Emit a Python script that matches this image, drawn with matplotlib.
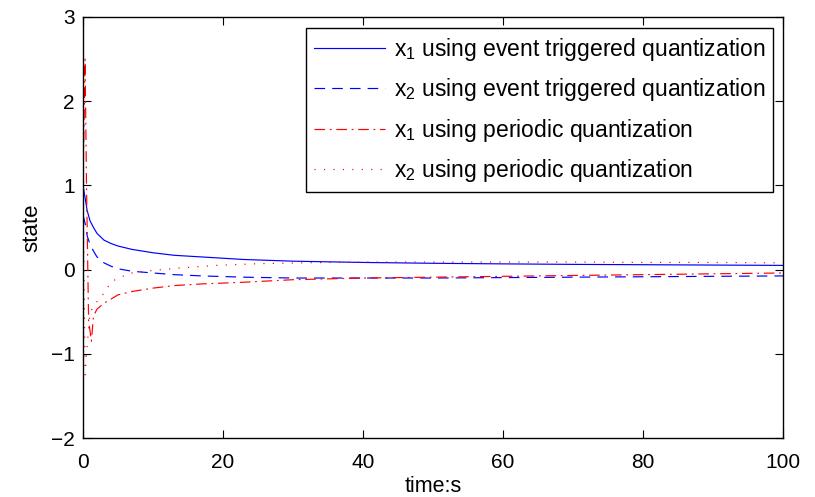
import matplotlib
matplotlib.use("Agg")
import matplotlib.pyplot as plt
import numpy as np

plt.rcParams['font.family'] = ['Liberation Sans', 'DejaVu Sans']
plt.rcParams['mathtext.fontset'] = 'custom'
plt.rcParams['mathtext.rm'] = 'Liberation Sans'
plt.rcParams['mathtext.it'] = 'Liberation Sans'

# time samples (s)
t_x1e = [0, 0.3, 0.6, 1, 1.5, 2, 3, 4, 5, 7, 10, 13, 17, 23, 30, 40, 50, 60, 70, 80, 90, 100]
x1_event = [1.0, 0.85, 0.7, 0.58, 0.5, 0.43, 0.35, 0.31, 0.28, 0.24, 0.2, 0.17, 0.15, 0.12,
            0.1, 0.085, 0.075, 0.068, 0.062, 0.058, 0.054, 0.05]

t_x2e = [0, 0.3, 0.6, 1, 1.5, 2, 3, 4, 5, 7, 10, 13, 17, 23, 30, 40, 50, 60, 70, 80, 90, 100]
x2_event = [0.65, 0.55, 0.4, 0.3, 0.22, 0.15, 0.08, 0.04, 0.01, -0.02, -0.04, -0.06, -0.075,
            -0.09, -0.1, -0.1, -0.1, -0.095, -0.09, -0.085, -0.08, -0.075]

t_x1p = [0, 0.3, 0.5, 0.8, 1.2, 1.5, 2, 3, 4, 5, 7, 10, 13, 17, 23, 30, 40, 50, 60, 70, 80, 90, 100]
x1_periodic = [1.0, 2.5, 1.0, -0.6, -0.85, -0.55, -0.47, -0.4, -0.35, -0.3, -0.26, -0.22, -0.19,
               -0.17, -0.15, -0.12, -0.1, -0.09, -0.08, -0.07, -0.06, -0.05, -0.04]

t_x2p = [0, 0.3, 0.6, 1, 1.5, 2, 3, 4, 5, 7, 10, 14, 19, 25, 31, 40, 50, 60, 70, 80, 90, 100]
x2_periodic = [1.0, -1.25, -0.9, -0.5, -0.45, -0.38, -0.28, -0.15, -0.1, -0.04, -0.01, 0.02,
               0.05, 0.07, 0.08, 0.09, 0.09, 0.09, 0.09, 0.085, 0.085, 0.08]

labels = ['x$_1$ using event triggered quantization',
          'x$_2$ using event triggered quantization',
          'x$_1$ using periodic quantization',
          'x$_2$ using periodic quantization']

xticks = [0, 20, 40, 60, 80, 100]
yticks = [-2, -1, 0, 1, 2, 3]
yticklabels = ['\u22122', '\u22121', '0', '1', '2', '3']

fig = plt.figure(figsize=(8.15, 4.97), dpi=100)
ax = fig.add_axes([83/815, 1 - 438/497, 700/815, 421/497])

lw = 0.85
ax.plot(t_x1e, x1_event, color='#0000ff', lw=lw, ls='-', label=labels[0])
ax.plot(t_x2e, x2_event, color='#0000ff', lw=lw, ls=(0, (9, 6)), label=labels[1])
ax.plot(t_x1p, x1_periodic, color='#ff0000', lw=lw, ls=(0, (9, 4, 1.5, 4)), label=labels[2])
ax.plot(t_x2p, x2_periodic, color='#ff0000', lw=lw, ls=(0, (1, 7)), label=labels[3])

ax.set_xlim(0, 100)
ax.set_ylim(-2, 3)
ax.set_xticks(xticks)
ax.set_yticks(yticks)
ax.set_yticklabels(yticklabels)
ax.tick_params(direction='in', top=True, right=True, length=6, width=0.8,
               labelsize=15)
ax.tick_params(axis='x', pad=11)
ax.tick_params(axis='y', pad=6)
for s in ax.spines.values():
    s.set_linewidth(1.0)

ax.set_xlabel('time:s', fontsize=15.5, labelpad=3)
ax.set_ylabel('state', fontsize=16, labelpad=6)

leg = ax.legend(loc='upper right', fontsize=16.5, frameon=True, fancybox=False,
                edgecolor='black', framealpha=1, handlelength=3.1,
                bbox_to_anchor=(690/700, 1 - 11/421), borderaxespad=0,
                labelspacing=0.58, handletextpad=0.35, borderpad=0.35)
leg.get_frame().set_linewidth(1.0)

fig.savefig('out.png', dpi=100)
